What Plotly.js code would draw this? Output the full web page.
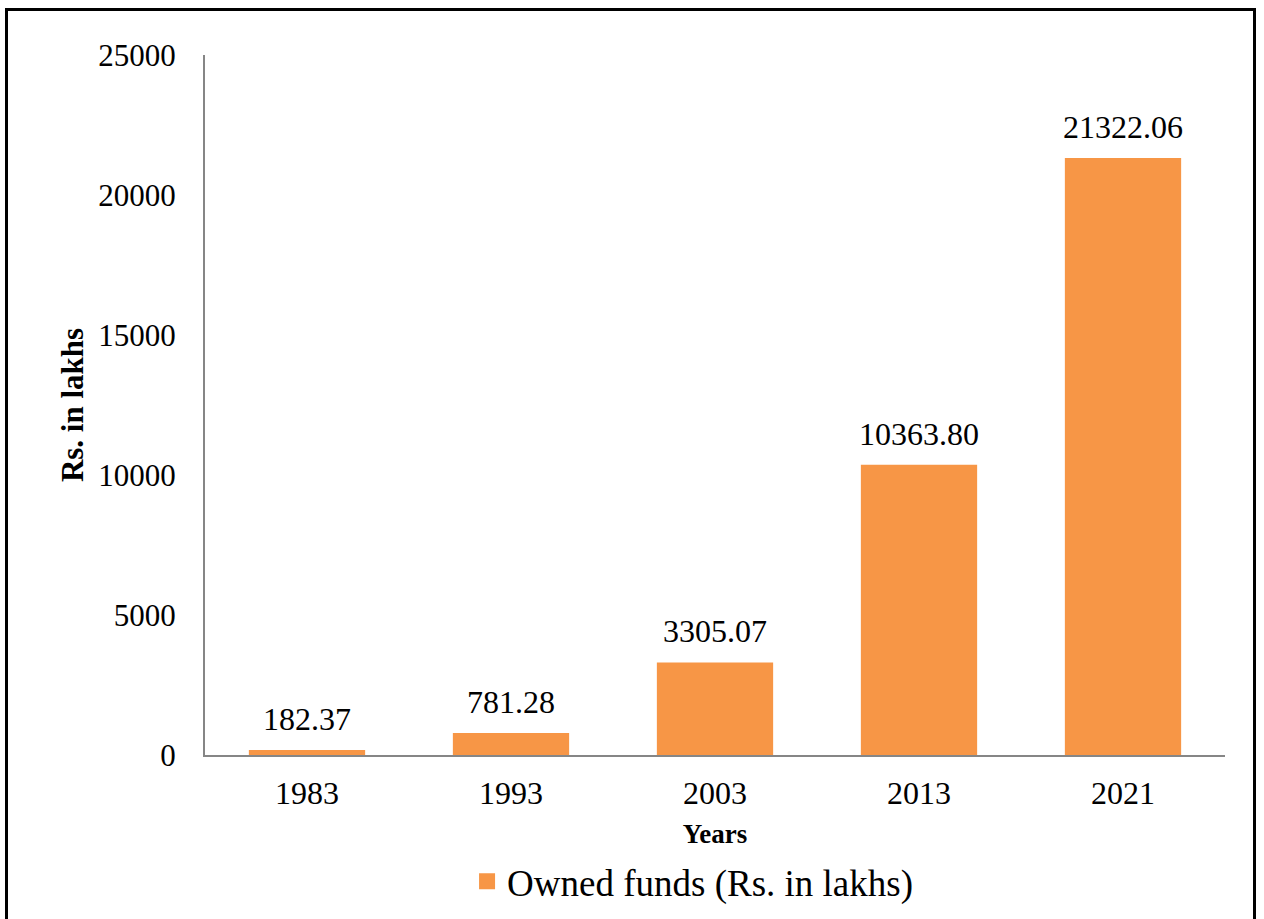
<!DOCTYPE html>
<html>
<head>
<meta charset="utf-8">
<script src="https://cdn.plot.ly/plotly-3.0.1.min.js"></script>
<style>
  html, body { margin: 0; padding: 0; background: #fff; overflow: hidden; }
  #chart { width: 1264px; height: 919px; position: absolute; left: 0; top: 0; }
  #frame { position: absolute; left: 5px; top: 8px; width: 1245px; height: 930px;
           border: 3px solid #000; pointer-events: none; }
</style>
</head>
<body>
<div id="chart"></div>
<div id="frame"></div>
<script>
const years = ['1983', '1993', '2003', '2013', '2021'];
const ownedFunds = [182.37, 781.28, 3305.07, 10363.80, 21322.06];
const seriesName = 'Owned funds (Rs. in lakhs)';
const yTicks = [0, 5000, 10000, 15000, 20000, 25000];

const FONT = '"Liberation Serif", "Times New Roman", Times, serif';
const ORANGE = '#F79646';

const traces = [
  {
    type: 'bar',
    x: years,
    y: ownedFunds,
    name: seriesName,
    marker: { color: ORANGE },
    showlegend: false,
    hoverinfo: 'x+y'
  },
  {
    // legend-only swatch (larger square like the reference)
    type: 'scatter',
    mode: 'markers',
    x: [null],
    y: [null],
    xaxis: 'x2',
    yaxis: 'y2',
    name: seriesName,
    marker: { symbol: 'square', color: ORANGE, size: 19 },
    showlegend: true,
    hoverinfo: 'skip'
  }
];

// value labels above bars (x given as category index)
const annotations = years.map((yr, i) => ({
  x: i,
  y: ownedFunds[i],
  xref: 'x',
  yref: 'y',
  text: ownedFunds[i].toFixed(2),
  showarrow: false,
  yanchor: 'bottom',
  yshift: 11,
  font: { family: FONT, size: 32, color: '#000' }
}));

const layout = {
  width: 1264,
  height: 919,
  margin: { l: 205, r: 39, t: 55, b: 164, autoexpand: false },
  paper_bgcolor: '#fff',
  plot_bgcolor: '#fff',
  font: { family: FONT, color: '#000' },
  bargap: 0.43,
  xaxis: {
    type: 'category',
    categoryorder: 'array',
    categoryarray: years,
    range: [-0.5, years.length - 0.5],
    showline: true,
    linecolor: '#868686',
    linewidth: 2,
    ticks: '',
    showgrid: false,
    zeroline: false,
    automargin: false,
    tickfont: { family: FONT, size: 32, color: '#000' },
    ticklabelstandoff: 9,
    title: { text: '<b>Years</b>', font: { family: FONT, size: 27, color: '#000' }, standoff: 14 }
  },
  yaxis: {
    range: [0, 25000],
    tickvals: yTicks,
    ticktext: yTicks.map(String),
    showline: true,
    linecolor: '#868686',
    linewidth: 2,
    ticks: '',
    showgrid: false,
    zeroline: false,
    automargin: false,
    tickfont: { family: FONT, size: 31, color: '#000' },
    ticklabelstandoff: 21,
    title: { text: '<b>Rs. in lakhs</b>', font: { family: FONT, size: 31, color: '#000' }, standoff: 5 }
  },
  xaxis2: { visible: false, overlaying: 'x', range: [0, 1] },
  yaxis2: { visible: false, overlaying: 'y', range: [0, 1] },
  showlegend: true,
  legend: {
    orientation: 'h',
    x: 0.478,
    xanchor: 'center',
    y: -0.181,
    yanchor: 'middle',
    font: { family: FONT, size: 37, color: '#000' },
    itemwidth: 30,
    bgcolor: 'rgba(0,0,0,0)'
  },
  annotations: annotations
};

Plotly.newPlot('chart', traces, layout, { displayModeBar: false, staticPlot: true });
</script>
</body>
</html>
